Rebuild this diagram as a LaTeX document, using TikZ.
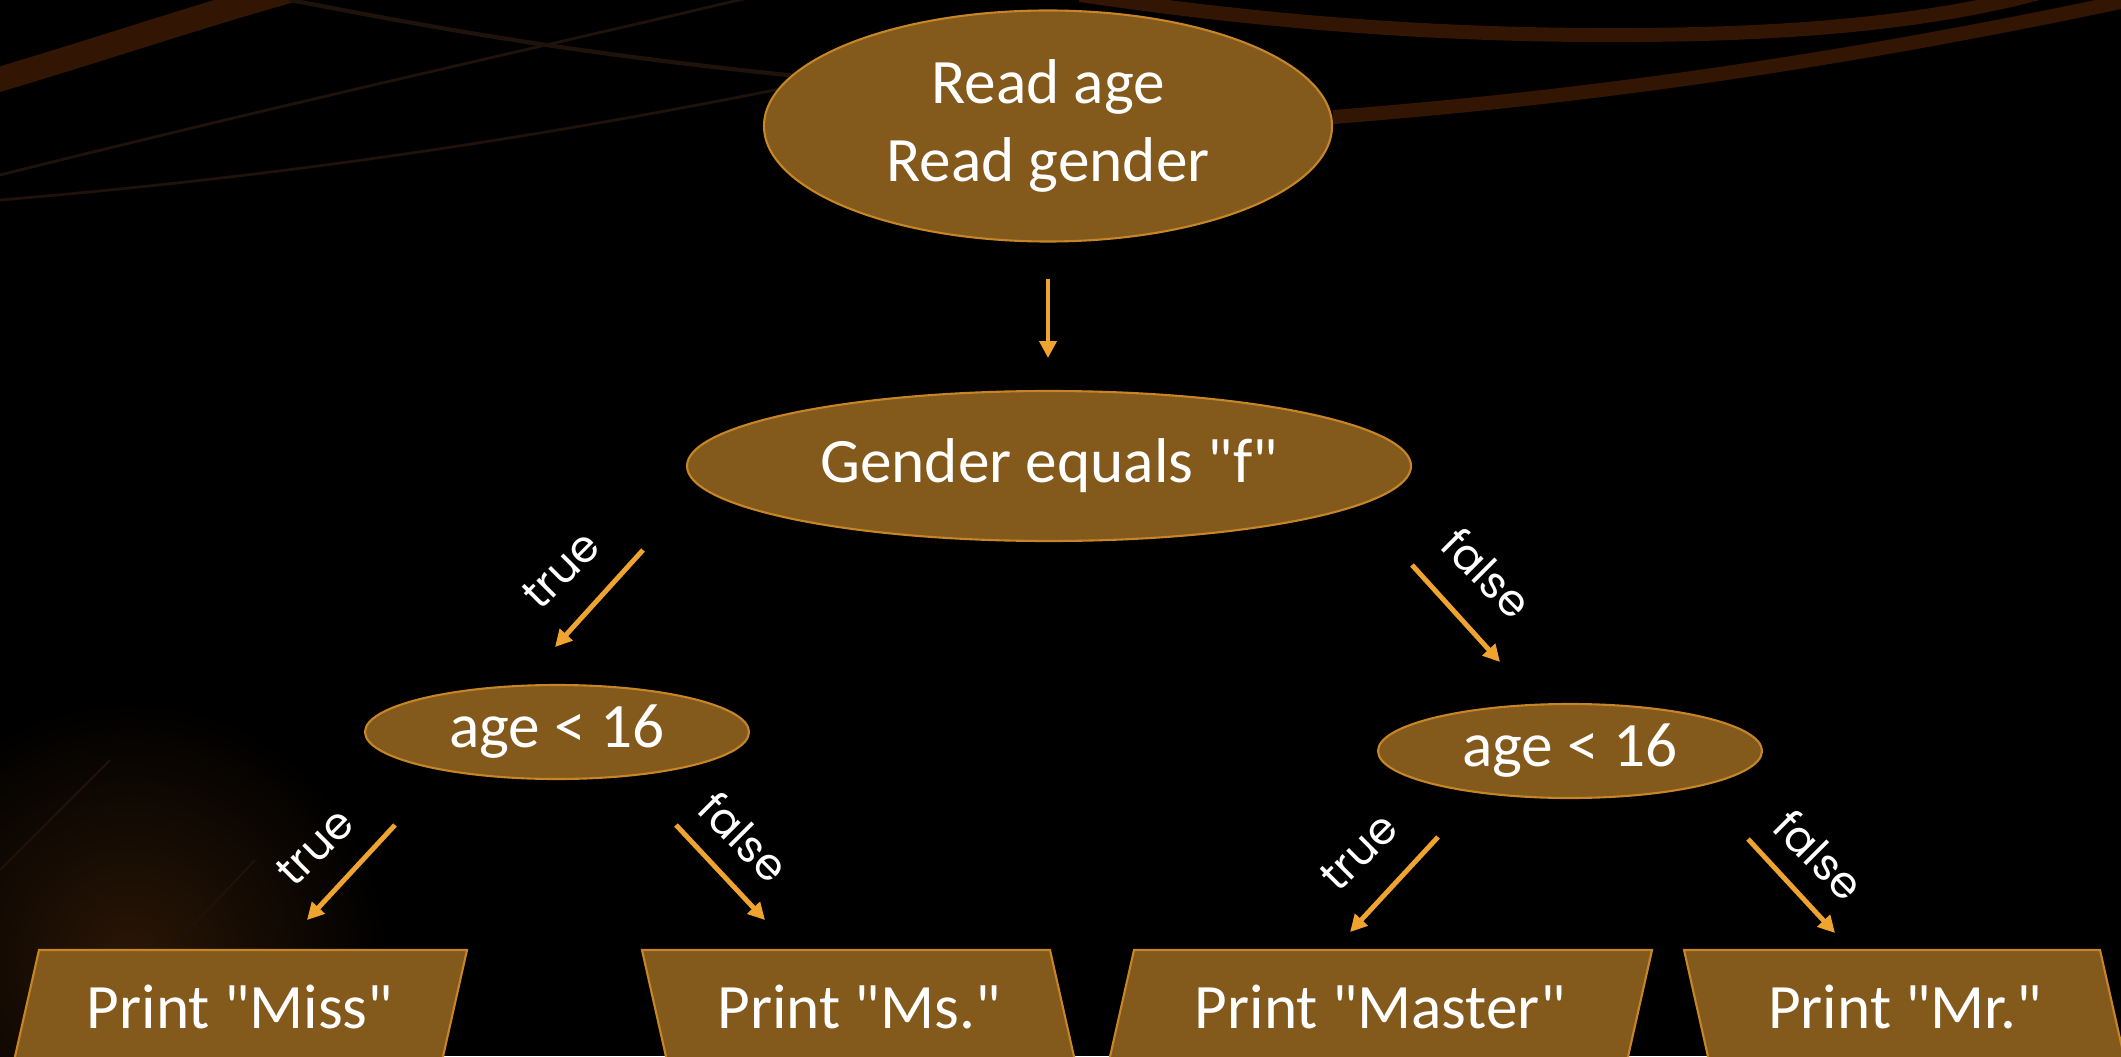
\documentclass[tikz,border=0pt]{standalone}
\usepackage{fontspec}
\setmainfont{Carlito}[Ligatures=TeXOff]
\newfontfamily\branchfont{Poppins}
\usetikzlibrary{shapes.geometric,arrows.meta}

\begin{document}
\begin{tikzpicture}[x=0.1mm,y=-0.1mm]
    % Colors
    \definecolor{box fill}{RGB}{132,89,28}
    \definecolor{box border}{RGB}{198,134,40}
    \definecolor{arrow color}{RGB}{240,164,48}
    \definecolor{swoosh color}{RGB}{50,21,3}
    \definecolor{thin swoosh}{RGB}{30,18,11}
    \definecolor{glow color}{RGB}{42,22,6}

    % Styles
    \tikzstyle{step text} = [text=white, inner sep=0pt, align=center, font=\fontsize{18}{22}\selectfont]
    \tikzstyle{decision} = [ellipse, step text, fill=box fill, draw=box border, line width=0.6pt]
    \tikzstyle{output box} = [fill=box fill, draw=box border, line width=0.6pt]
    \tikzstyle{flow arrow} = [arrow color, line width=1.4pt, -{Triangle[length=4.8pt,width=4.8pt]}]
    \tikzstyle{branch text} = [text=white, inner sep=0pt, font=\branchfont\fontsize{12.5}{14}\selectfont]

    %%% Background
    \useasboundingbox (0,0) rectangle (2121,1056);
    \clip (0,0) rectangle (2121,1056);
    \fill[black] (0,0) rectangle (2121,1056);
    \fill[inner color=glow color, outer color=black] (130,960) circle (260);
    \draw[swoosh color, line width=7pt] (-20,85) .. controls (100,50) and (200,15) .. (310,-15);
    \draw[swoosh color, line width=4pt] (1080,-5) .. controls (1250,20) and (1450,40) .. (1700,34)
        .. controls (1850,30) and (1960,15) .. (2050,-10);
    \draw[swoosh color, line width=4pt] (1333,117) .. controls (1550,100) and (1800,70) .. (2130,0);
    \draw[thin swoosh, line width=1.2pt] (290,0) .. controls (500,40) and (700,80) .. (1333,117);
    \draw[thin swoosh, line width=0.8pt] (760,-5) .. controls (550,45) and (300,100) .. (0,175);
    \draw[thin swoosh, line width=0.8pt] (790,87) .. controls (550,135) and (300,175) .. (0,200);
    \draw[thin swoosh, line width=0.6pt] (0,870) -- (110,760);
    \draw[thin swoosh, line width=0.6pt] (170,950) -- (255,860);
    %%%

    %%% Flow chart
    \node[decision, minimum width=56.8mm, minimum height=23.1mm] (read) at (1048,126)
        {Read age\\Read gender};
    \node[decision, minimum width=72.4mm, minimum height=15mm] (gender) at (1049,466)
        {Gender equals "f"};
    \node[decision, minimum width=38.4mm, minimum height=9.4mm] (femage) at (557,732) {age < 16};
    \node[decision, minimum width=38.4mm, minimum height=9.4mm] (maleage) at (1570,751) {age < 16};

    % Output boxes, cut off by the bottom edge
    \foreach \name/\xl/\xr/\dx/\xt/\txt in {miss/39/467/-27/240/{Print "Miss"},
        ms/642/1050/27/859/{Print "Ms."}, master/1134/1652/-27/1380/{Print "Master"},
        mr/1684/2100/27/1905/{Print "Mr."}}
    {
        \filldraw[output box] (\xl,950) -- (\xr,950) -- (\xr+\dx,1070) -- (\xl+\dx,1070) -- cycle;
        \node[step text] (\name) at (\xt,1007) {\txt};
    }

    % Arrow ends
    \coordinate (read out) at (1048,279);
    \coordinate (gender in) at (1048,358);
    \coordinate (gender true) at (643,550);
    \coordinate (fem in) at (555,647);
    \coordinate (gender false) at (1412,565);
    \coordinate (male in) at (1500,662);
    \coordinate (fem true) at (395,825);
    \coordinate (miss in) at (307,920);
    \coordinate (fem false) at (676,825);
    \coordinate (ms in) at (765,920);
    \coordinate (male true) at (1438,837);
    \coordinate (master in) at (1350,932);
    \coordinate (male false) at (1748,839);
    \coordinate (mr in) at (1835,933);

    % Arrows
    \draw[flow arrow, line width=1.1pt] (read out) -- (gender in);
    \draw[flow arrow] (gender true) -- (fem in);
    \draw[flow arrow] (gender false) -- (male in);
    \draw[flow arrow] (fem true) -- (miss in);
    \draw[flow arrow] (fem false) -- (ms in);
    \draw[flow arrow] (male true) -- (master in);
    \draw[flow arrow] (male false) -- (mr in);

    % Branch labels
    \node[branch text, rotate=45] (gender yes) at (561,570) {true};
    \node[branch text, rotate=-45] (gender no) at (1487,573) {false};
    \node[branch text, rotate=45] (fem yes) at (315,847) {true};
    \node[branch text, rotate=-45] (fem no) at (744,837) {false};
    \node[branch text, rotate=45] (male yes) at (1359,852) {true};
    \node[branch text, rotate=-45] (male no) at (1819,855) {false};
    %%%
\end{tikzpicture}
\end{document}
